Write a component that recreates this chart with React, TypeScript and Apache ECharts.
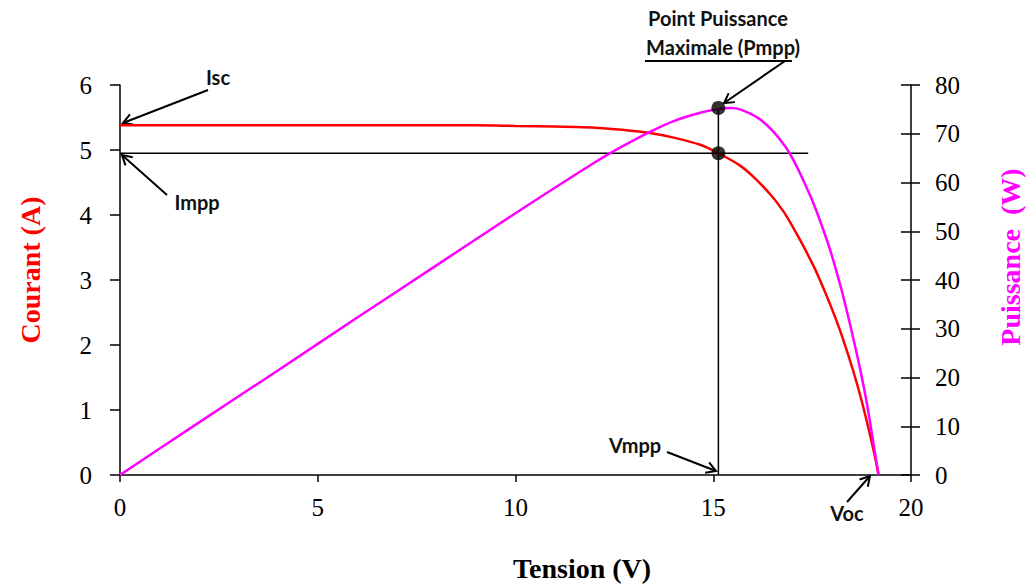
import React, { useEffect, useRef } from "react";
import * as echarts from "echarts";

// ---- Data ----
const voltageI = [0, 2, 4, 6, 8, 9, 10, 11, 12.1, 12.7, 13.4, 14.0, 14.67, 15.13, 15.68, 16.01, 16.44, 16.77, 17.0, 17.28, 17.58, 17.76, 18.01, 18.26, 18.54, 18.77, 18.97, 19.1, 19.18];
const current = [5.38, 5.38, 5.38, 5.38, 5.38, 5.38, 5.37, 5.36, 5.34, 5.31, 5.26, 5.19, 5.08, 4.95, 4.76, 4.59, 4.32, 4.06, 3.83, 3.52, 3.16, 2.91, 2.54, 2.13, 1.6, 1.1, 0.6, 0.25, 0];
const voltageP = [0, 2, 4, 6, 8, 10, 12, 12.7, 13.4, 14.0, 14.67, 15.13, 15.45, 15.68, 16.14, 16.49, 16.82, 17.0, 17.2, 17.53, 17.89, 18.09, 18.26, 18.47, 18.72, 18.9, 19.05, 19.18];
const power = [0, 10.8, 21.5, 32.3, 43, 53.7, 64.1, 67.4, 70.4, 72.6, 74.3, 75.1, 75.3, 75.0, 73.2, 70.7, 67.4, 65.0, 61.8, 55.8, 47.8, 42.5, 37.5, 30.5, 21.5, 14.0, 6.5, 0];
const vmpp = 15.13;
const impp = 4.95;
const pmpp = 75.3;
const impLineEnd = 17.4;
const xTicks = { min: 0, max: 20, interval: 5 };
const iTicks = { min: 0, max: 6, interval: 1 };
const pTicks = { min: 0, max: 80, interval: 10 };

const SERIF = "'Liberation Serif', 'Times New Roman', serif";
const SANS = "Lato, 'Open Sans', sans-serif";

function arrow(x1: number, y1: number, x2: number, y2: number) {
  const ang = Math.atan2(y2 - y1, x2 - x1);
  const L = 11;
  const a = Math.PI / 6;
  const p1 = [x2 - L * Math.cos(ang - a), y2 - L * Math.sin(ang - a)];
  const p2 = [x2 - L * Math.cos(ang + a), y2 - L * Math.sin(ang + a)];
  return [
    { type: "line", shape: { x1, y1, x2, y2 }, style: { stroke: "#000", lineWidth: 2 } },
    { type: "polyline", shape: { points: [p1, [x2, y2], p2] }, style: { stroke: "#000", lineWidth: 2, fill: null } },
  ];
}

function label(text: string, x: number, y: number) {
  return {
    type: "text",
    x,
    y,
    style: { text, fill: "#111", font: `bold 20px ${SANS}`, textAlign: "center", textVerticalAlign: "middle" },
  };
}

export default function App() {
  const ref = useRef<HTMLDivElement>(null);
  useEffect(() => {
    if (!ref.current) return;
    const chart = echarts.init(ref.current, null, { renderer: "svg" });
    const axisLabelStyle = { color: "#000", fontFamily: SERIF, fontSize: 25 };
    chart.setOption({
      animation: false,
      backgroundColor: "#fff",
      grid: { left: 120, right: 116, top: 85, bottom: 111 },
      xAxis: {
        type: "value",
        ...xTicks,
        axisLine: { lineStyle: { color: "#000", width: 1.5 } },
        axisTick: { show: true, inside: false, length: 7, lineStyle: { color: "#000", width: 1.5 } },
        axisLabel: { ...axisLabelStyle, margin: 20 },
        splitLine: { show: false },
      },
      yAxis: [
        {
          type: "value",
          position: "left",
          ...iTicks,
          axisLine: { show: true, lineStyle: { color: "#000", width: 1.5 } },
          axisTick: { show: true, inside: false, length: 10, lineStyle: { color: "#000", width: 1.5 } },
          axisLabel: { ...axisLabelStyle, margin: 28 },
          splitLine: { show: false },
        },
        {
          type: "value",
          position: "right",
          ...pTicks,
          axisLine: { show: true, lineStyle: { color: "#000", width: 1.5 } },
          axisTick: { show: true, inside: false, length: 9, lineStyle: { color: "#000", width: 1.5 } },
          axisLabel: { ...axisLabelStyle, margin: 24 },
          splitLine: { show: false },
        },
        {
          type: "value",
          position: "right",
          offset: 0,
          ...pTicks,
          axisLine: { show: false },
          axisTick: { show: true, inside: true, length: 10, lineStyle: { color: "#000", width: 1.5 } },
          axisLabel: { show: false },
          splitLine: { show: false },
        },
      ],
      series: [
        {
          name: "Courant",
          type: "line",
          yAxisIndex: 0,
          data: voltageI.map((v, i) => [v, current[i]]),
          smooth: 0.25,
          showSymbol: false,
          lineStyle: { color: "#ff0000", width: 2.5 },
          z: 3,
        },
        {
          name: "Puissance",
          type: "line",
          yAxisIndex: 1,
          data: voltageP.map((v, i) => [v, power[i]]),
          smooth: 0.25,
          showSymbol: false,
          lineStyle: { color: "#ff00ff", width: 2.5 },
          z: 3,
        },
        {
          name: "Impp line",
          type: "line",
          yAxisIndex: 0,
          data: [[0, impp], [impLineEnd, impp]],
          showSymbol: false,
          lineStyle: { color: "#000", width: 1.3 },
          z: 2,
        },
        {
          name: "Vmpp line",
          type: "line",
          yAxisIndex: 1,
          data: [[vmpp, 0], [vmpp, pmpp]],
          showSymbol: false,
          lineStyle: { color: "#000", width: 1.5 },
          z: 2,
        },
        {
          name: "Impp point",
          type: "scatter",
          yAxisIndex: 0,
          data: [[vmpp, impp]],
          symbolSize: 14,
          itemStyle: { color: "#000" },
          z: 5,
        },
        {
          name: "Pmpp point",
          type: "scatter",
          yAxisIndex: 1,
          data: [[vmpp, pmpp]],
          symbolSize: 14,
          itemStyle: { color: "#000" },
          z: 5,
        },
      ],
      graphic: [
        {
          type: "text",
          x: 30,
          y: 270,
          rotation: Math.PI / 2,
          style: { text: "Courant (A)", fill: "#ff0000", font: `bold 28px ${SERIF}`, textAlign: "center", textVerticalAlign: "middle" },
        },
        {
          type: "text",
          x: 1010,
          y: 257,
          rotation: Math.PI / 2,
          style: { text: "Puissance  (W)", fill: "#ff00ff", font: `bold 28px ${SERIF}`, textAlign: "center", textVerticalAlign: "middle" },
        },
        {
          type: "text",
          x: 582,
          y: 568,
          style: { text: "Tension (V)", fill: "#000", font: `bold 28px ${SERIF}`, textAlign: "center", textVerticalAlign: "middle" },
        },
        label("Isc", 218, 77),
        label("Impp", 197, 202),
        label("Vmpp", 635, 445),
        label("Voc", 847, 513),
        label("Point Puissance", 718, 18),
        label("Maximale (Pmpp)", 723, 47),
        { type: "line", shape: { x1: 645, y1: 61, x2: 792, y2: 61 }, style: { stroke: "#000", lineWidth: 2 } },
        ...arrow(208, 90, 123, 123),
        ...arrow(167, 195, 122, 155),
        ...arrow(667, 452, 716, 471),
        ...arrow(847, 502, 870, 476),
        ...arrow(785, 61, 724, 103),
      ],
    });
    return () => chart.dispose();
  }, []);
  return <div ref={ref} style={{ position: "fixed", left: 0, top: 0, width: 1027, height: 586 }} />;
}
